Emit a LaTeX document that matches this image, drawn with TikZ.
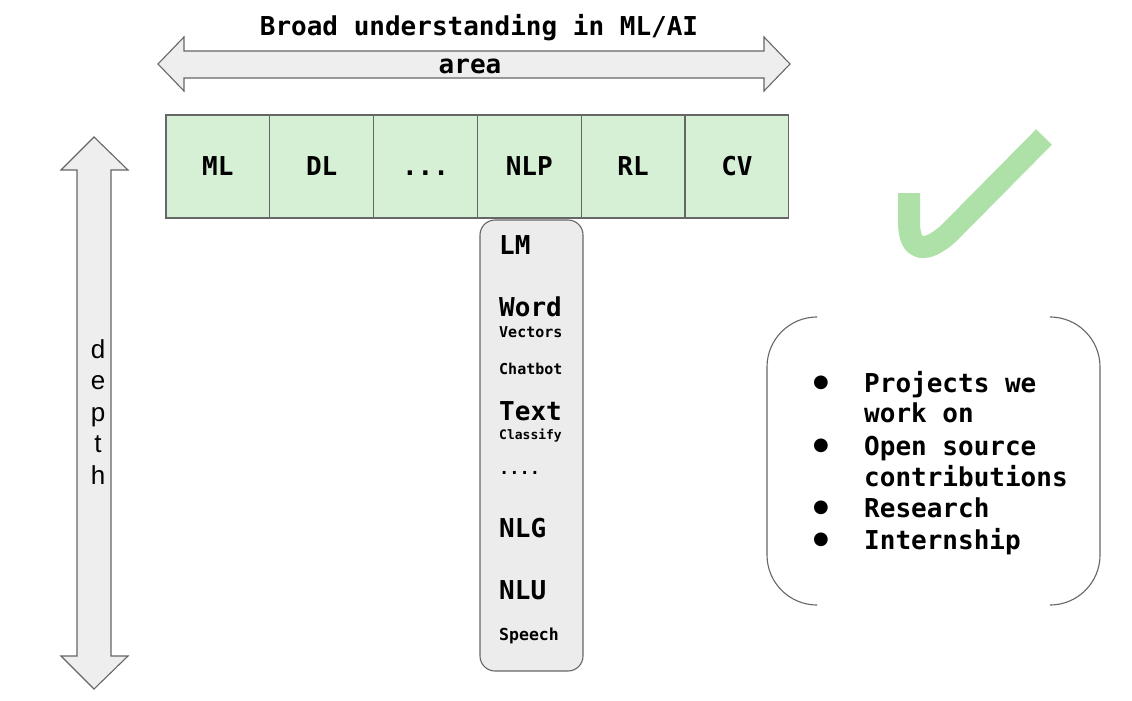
\documentclass[tikz,border=0pt]{standalone}
\usepackage{fontspec}
\setmonofont{DejaVu Sans Mono}
\newfontfamily\depthfont{Liberation Sans}
\newfontfamily\symfont{DejaVu Sans}
\definecolor{cellgreen}{RGB}{213,240,212}
\definecolor{edgegray}{RGB}{102,102,102}
\definecolor{arrowfill}{RGB}{238,238,238}
\definecolor{colfill}{RGB}{236,236,236}
\definecolor{checkgreen}{RGB}{174,225,167}
\tikzset{
  big/.style={font=\ttfamily\bfseries\fontsize{26}{30}\selectfont},
  small/.style={font=\ttfamily\bfseries\fontsize{15}{18}\selectfont},
  cell/.style={draw=edgegray, fill=cellgreen, line width=1.1pt, minimum width=103.8pt, minimum height=103pt, inner sep=0pt, big},
  bigarrow/.style={draw=edgegray, fill=arrowfill, line width=1.1pt, line join=miter},
  colbox/.style={draw=edgegray, fill=colfill, line width=1.1pt, rounded corners=15pt},
  coltext/.style={anchor=base west, inner sep=0pt},
  bracket/.style={draw=edgegray, line width=1.1pt, rounded corners=50pt},
}
\begin{document}
\begin{tikzpicture}[x=1pt,y=-1pt]
\useasboundingbox[fill=white] (0,0) rectangle (1132,701);

% horizontal double arrow
\draw[bigarrow] (158,64) -- (184,37) -- (184,51) -- (764,51) -- (764,37) -- (790,64)
  -- (764,91) -- (764,78) -- (184,78) -- (184,91) -- cycle;
\node[big, anchor=base, inner sep=0pt] (title) at (479,36) {Broad understanding in ML/AI};
\node[big, anchor=base, inner sep=0pt] (area) at (470,74) {area};

% vertical double arrow
\draw[bigarrow] (94,137) -- (128,170) -- (111,170) -- (111,656) -- (128,656) -- (94,689)
  -- (61,656) -- (77,656) -- (77,170) -- (61,170) -- cycle;
\node[font=\depthfont\fontsize{26}{31.5}\selectfont, align=center, inner sep=0pt] (depth) at (98,412) {d\\e\\p\\t\\h};

% NLP column
\draw[colbox] (480,220) rectangle (583,671);
\node[coltext, big] (lm) at (499,254) {LM};
\node[coltext, big] (word) at (499,316) {Word};
\node[coltext, small] (vec) at (499,337) {Vectors};
\node[coltext, small] (chat) at (499,374) {Chatbot};
\node[coltext, big] (text) at (499,420) {Text};
\node[coltext, font=\ttfamily\bfseries\fontsize{13}{16}\selectfont] (cls) at (499,439) {Classify};
\node[coltext, font=\ttfamily\bfseries\fontsize{17}{20}\selectfont] (dots) at (499,474) {{.}{.}{.}{.}};
\node[coltext, big] (nlg) at (499,537) {NLG};
\node[coltext, big] (nlu) at (499,599) {NLU};
\node[coltext, font=\ttfamily\bfseries\fontsize{16.5}{20}\selectfont] (speech) at (499,640) {Speech};

% row of cells
\node[cell] (ml) at (217.9,166.5) {ML};
\node[cell] (dl) at (321.7,166.5) {DL};
\node[cell] (etc) at (425.5,166.5) {\vphantom{ML}{.}{.}{.}};
\node[cell] (nlp) at (529.3,166.5) {NLP};
\node[cell] (rl) at (633.1,166.5) {RL};
\node[cell] (cv) at (736.9,166.5) {CV};

% check mark
\draw[checkgreen, line width=22pt, line cap=butt, line join=round]
  (909,193) -- (909,222) .. controls (909,252) and (925,254) .. (948,234) -- (1044,137);

% bullet box brackets
\draw[bracket] (815,317) -- (767,317) -- (767,605) -- (815,605);
\draw[bracket] (1052,317) -- (1100,317) -- (1100,605) -- (1052,605);

% bullet list
\foreach \n/\y in {b1/383, b2/446, b3/508, b4/540}
  \node[font=\symfont\fontsize{18}{20}\selectfont, inner sep=0pt] (\n) at (821,\y) {●};
\node[coltext, big] (l1) at (864,392) {Projects we};
\node[coltext, big] (l2) at (864,422) {work on};
\node[coltext, big] (l3) at (864,455) {Open source};
\node[coltext, big] (l4) at (864,486) {contributions};
\node[coltext, big] (l5) at (864,517) {Research};
\node[coltext, big] (l6) at (864,549) {Internship};
\end{tikzpicture}
\end{document}
